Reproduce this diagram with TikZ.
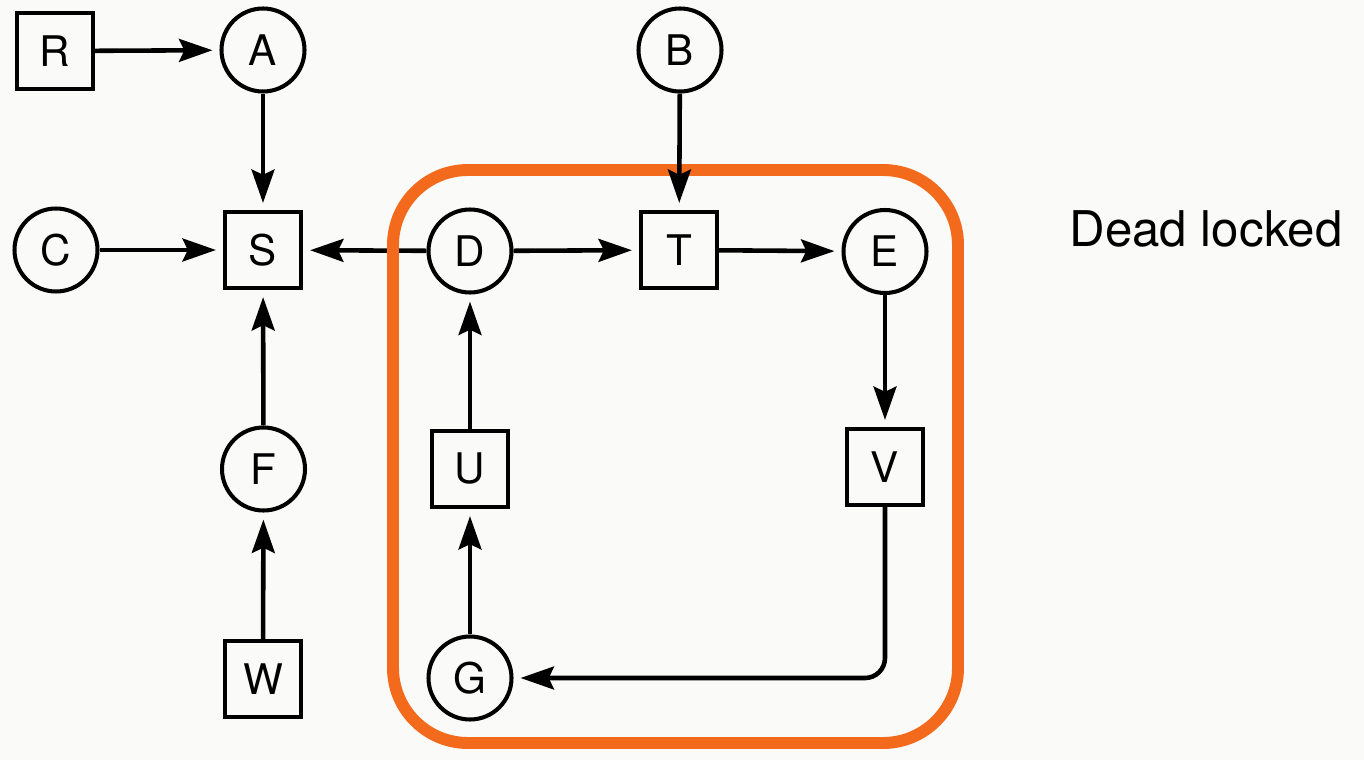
\documentclass[tikz,border=0pt]{standalone}
\usepackage{fontspec}
\setmainfont{TeX Gyre Heros}
\usetikzlibrary{arrows.meta}
\definecolor{cycle}{HTML}{F36A1C}
\definecolor{paper}{HTML}{FAFBF8}

\begin{document}
\begin{tikzpicture}[
  proc/.style={circle,draw,line width=2.3pt,minimum size=1.66cm,inner sep=0pt,font=\fontsize{24}{28}\selectfont},
  res/.style={rectangle,draw,line width=2.3pt,minimum size=1.52cm,inner sep=0pt,font=\fontsize{24}{28}\selectfont},
  arr/.style={line width=2.6pt,-{Stealth[length=19pt,width=13pt,inset=3pt]},shorten >=4pt}
]
  % Page
  \fill[paper] (0,0) rectangle (27.28,15.2);
  \useasboundingbox (0,0) rectangle (27.28,15.2);

  % Processes and resources
  \node[res]  (R) at (1.1,14.18)   {R};
  \node[proc] (A) at (5.26,14.2)   {A};
  \node[proc] (B) at (13.6,14.2)   {B};
  \node[proc] (C) at (1.12,10.2)   {C};
  \node[res]  (S) at (5.26,10.2)   {S};
  \node[proc] (D) at (9.4,10.18)   {D};
  \node[res]  (T) at (13.58,10.2)  {T};
  \node[proc] (E) at (17.7,10.17)  {E};
  \node[proc] (F) at (5.27,5.82)   {F};
  \node[res]  (U) at (9.4,5.82)    {U};
  \node[res]  (V) at (17.7,5.86)   {V};
  \node[res]  (W) at (5.26,1.62)   {W};
  \node[proc] (G) at (9.4,1.64)    {G};

  % Edges outside the cycle
  \draw[arr] (R) -- (A);
  \draw[arr] (A) -- (S);
  \draw[arr] (C) -- (S);
  \draw[arr] (F) -- (S);
  \draw[arr] (W) -- (F);
  \draw[arr] (D) -- (S);

  % Cycle
  \draw[cycle,line width=6.8pt,rounded corners=1.5cm] (7.86,0.34) rectangle (19.16,11.8);
  \draw[arr] (B) -- (T);
  \draw[arr] (D) -- (T);
  \draw[arr] (T) -- (E);
  \draw[arr] (E) -- (V);
  \draw[arr,rounded corners=0.4cm] (V.south) |- (G.east);
  \draw[arr] (G) -- (U);
  \draw[arr] (U) -- (D);

  % Label
  \node[font=\fontsize{28}{33}\selectfont] (lbl) at (24.12,10.62) {Dead locked};
\end{tikzpicture}
\end{document}
